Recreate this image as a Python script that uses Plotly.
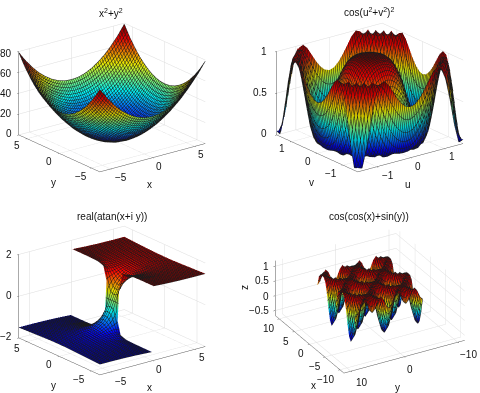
import numpy as np
import plotly.graph_objects as go

# ---------- values ----------
# x^2+y^2 : one quadrant, the other three are its mirror images
PARAB_AXIS = [-6.28, -5.5, -4.71, -3.93, -3.14, -2.36, -1.57, -0.79, 0]
PARAB_Q = [
    [79, 69.7, 61.7, 54.9, 49.4, 45.1, 42, 40.1, 39.5],
    [69.7, 60.4, 52.4, 45.6, 40.1, 35.8, 32.7, 30.8, 30.2],
    [61.7, 52.4, 44.4, 37.6, 32.1, 27.8, 24.7, 22.8, 22.2],
    [54.9, 45.6, 37.6, 30.8, 25.3, 21, 17.9, 16, 15.4],
    [49.4, 40.1, 32.1, 25.3, 19.8, 15.5, 12.4, 10.5, 9.9],
    [45.1, 35.8, 27.8, 21, 15.5, 11.2, 8.1, 6.2, 5.6],
    [42, 32.7, 24.7, 17.9, 12.4, 8.1, 5, 3.1, 2.5],
    [40.1, 30.8, 22.8, 16, 10.5, 6.2, 3.1, 1.2, 0.6],
    [39.5, 30.2, 22.2, 15.4, 9.9, 5.6, 2.5, 0.6, 0],
]
# cos(u^2+v^2)^2 : one quadrant
RIPPLE_AXIS = [-1.571, -1.44, -1.309, -1.178, -1.047, -0.916, -0.785, -0.654, -0.524, -0.393, -0.262, -0.131, 0]
RIPPLE_Q = [
    [0.049, 0.029, 0.255, 0.570, 0.831, 0.973, 0.997, 0.941, 0.848, 0.753, 0.678, 0.627, 0.610],
    [0.029, 0.286, 0.640, 0.901, 0.999, 0.949, 0.810, 0.644, 0.491, 0.373, 0.293, 0.247, 0.232],
    [0.255, 0.640, 0.921, 0.998, 0.894, 0.692, 0.474, 0.293, 0.164, 0.086, 0.044, 0.025, 0.020],
    [0.570, 0.901, 0.998, 0.872, 0.627, 0.373, 0.177, 0.059, 0.008, 0.001, 0.013, 0.027, 0.033],
    [0.831, 0.999, 0.894, 0.627, 0.339, 0.127, 0.020, 0.002, 0.040, 0.099, 0.155, 0.197, 0.208],
    [0.973, 0.949, 0.692, 0.373, 0.127, 0.012, 0.013, 0.089, 0.197, 0.298, 0.378, 0.429, 0.445],
    [0.997, 0.810, 0.474, 0.177, 0.020, 0.013, 0.110, 0.252, 0.395, 0.514, 0.599, 0.649, 0.669],
    [0.941, 0.644, 0.293, 0.059, 0.002, 0.089, 0.252, 0.429, 0.582, 0.697, 0.770, 0.813, 0.826],
    [0.848, 0.491, 0.164, 0.008, 0.040, 0.197, 0.395, 0.582, 0.728, 0.826, 0.886, 0.918, 0.927],
    [0.753, 0.373, 0.086, 0.001, 0.099, 0.298, 0.514, 0.697, 0.826, 0.909, 0.951, 0.971, 0.976],
    [0.678, 0.293, 0.044, 0.013, 0.155, 0.378, 0.599, 0.770, 0.886, 0.951, 0.981, 0.993, 0.995],
    [0.627, 0.247, 0.025, 0.027, 0.197, 0.429, 0.649, 0.813, 0.918, 0.971, 0.993, 0.999, 1.0],
    [0.610, 0.232, 0.020, 0.033, 0.208, 0.445, 0.669, 0.826, 0.927, 0.976, 0.995, 1.0, 1.0],
]
# real(atan(x+iy)) : rows for x>0, columns for y>=0
ATAN_X = [0.1, 0.3, 0.7, 1.2, 2, 3.14, 4.7, 6.28]
ATAN_Y = [0, 0.3, 0.6, 1, 1.5, 2.5, 4, 6.28]
ATAN_Q = [
    [0.099, 0.109, 0.154, 0.81, 1.49, 1.55, 1.564, 1.568],
    [0.29, 0.316, 0.414, 0.86, 1.36, 1.515, 1.551, 1.563],
    [0.611, 0.64, 0.732, 0.954, 1.232, 1.451, 1.526, 1.553],
    [0.876, 0.894, 0.946, 1.056, 1.207, 1.398, 1.498, 1.541],
    [1.107, 1.114, 1.135, 1.178, 1.245, 1.367, 1.467, 1.524],
    [1.262, 1.265, 1.272, 1.287, 1.313, 1.374, 1.447, 1.506],
    [1.361, 1.362, 1.364, 1.37, 1.38, 1.405, 1.447, 1.494],
    [1.413, 1.414, 1.415, 1.416, 1.42, 1.434, 1.457, 1.491],
]
ATAN_AT_ZERO = [0, 0, 0, 0, None, None, None, None]  # open gap for |y|>1
# cos(cos(x)+sin(y)) : one repeating cell, shown twice each way
WAVE_CELL = [
    [0.54, 0.07, -0.29, -0.42, -0.29, 0.07, 0.54, 0.88, 0.99, 1, 0.99, 0.88],
    [0.65, 0.2, -0.16, -0.29, -0.16, 0.2, 0.65, 0.93, 1, 0.99, 1, 0.93],
    [0.88, 0.54, 0.2, 0.07, 0.2, 0.54, 0.88, 1, 0.93, 0.88, 0.93, 1],
    [1, 0.88, 0.65, 0.54, 0.65, 0.88, 1, 0.88, 0.65, 0.54, 0.65, 0.88],
    [0.88, 1, 0.93, 0.88, 0.93, 1, 0.88, 0.54, 0.2, 0.07, 0.2, 0.54],
    [0.65, 0.93, 1, 0.99, 1, 0.93, 0.65, 0.2, -0.16, -0.29, -0.16, 0.2],
    [0.54, 0.88, 0.99, 1, 0.99, 0.88, 0.54, 0.07, -0.29, -0.42, -0.29, 0.07],
    [0.65, 0.93, 1, 0.99, 1, 0.93, 0.65, 0.2, -0.16, -0.29, -0.16, 0.2],
    [0.88, 1, 0.93, 0.88, 0.93, 1, 0.88, 0.54, 0.2, 0.07, 0.2, 0.54],
    [1, 0.88, 0.65, 0.54, 0.65, 0.88, 1, 0.88, 0.65, 0.54, 0.65, 0.88],
    [0.88, 0.54, 0.2, 0.07, 0.2, 0.54, 0.88, 1, 0.93, 0.88, 0.93, 1],
    [0.65, 0.2, -0.16, -0.29, -0.16, 0.2, 0.65, 0.93, 1, 0.99, 1, 0.93],
]
WAVE_LIMIT = 6.28

TITLES = ["x<sup>2</sup>+y<sup>2</sup>", "cos(u<sup>2</sup>+v<sup>2</sup>)<sup>2</sup>",
          "real(atan(x+i y))", "cos(cos(x)+sin(y))"]
TICKS_5 = [-5, 0, 5]
TICKS_1 = [-1, 0, 1]
TICKS_10 = [-10, -5, 0, 5, 10]
TICKS_10_WIDE = [-10, 0, 10]
Z_TICKS_A = [0, 20, 40, 60, 80]
Z_TICKS_B = [0, 0.5, 1]
Z_TICKS_C = [-2, 0, 2]
Z_TICKS_D = [-0.5, 0, 0.5, 1]

# page placement of the tick labels and axis names: text, px from left, px from top
Z_LABELS = [
    ("80", 14, 53), ("60", 14, 73), ("40", 14, 93), ("20", 14, 113), ("0", 14, 133),
    ("1", 269, 51), ("0.5", 269, 92), ("0", 269, 133),
    ("2", 14, 254), ("0", 14, 295), ("\u22122", 14, 336),
    ("1", 271, 266), ("0.5", 271, 280), ("0", 271, 296), ("\u22120.5", 271, 310),
]
PLANE_LABELS = [
    ("\u22125", 121, 178), ("0", 159, 166), ("5", 201, 154),
    ("5", 17, 145), ("0", 49, 161), ("\u22125", 81, 176),
    ("\u22121", 388, 175), ("0", 418, 166), ("1", 452, 156),
    ("1", 282, 148), ("0", 308, 161), ("\u22121", 331, 173),
    ("\u22125", 121, 381), ("0", 159, 369), ("5", 202, 357),
    ("5", 17, 348), ("0", 49, 364), ("\u22125", 79, 379),
    ("10", 269, 328), ("5", 286, 341), ("0", 301, 353), ("\u22125", 315, 366), ("\u221210", 325, 379),
    ("10", 362, 382), ("0", 410, 369), ("\u221210", 468, 354),
]
AXIS_NAMES = [
    ("x", 149, 184), ("y", 53, 182), ("u", 408, 184), ("v", 311, 182),
    ("x", 149, 387), ("y", 53, 385), ("x", 313, 385), ("y", 397, 387),
]
TITLE_PLACES = [(111, 13), (369, 12), (112, 216), (369, 216)]

# ---------- assemble grids ----------
def mirror(q):
    q = np.array(q, dtype=float)
    q = np.hstack([q, q[:, -2::-1]])
    return np.vstack([q, q[-2::-1, :]])

def mirror_axis(a):
    a = np.array(a, dtype=float)
    return np.concatenate([a, -a[-2::-1]])

parab_axis = mirror_axis(PARAB_AXIS)
parab_z = mirror(PARAB_Q)
ripple_axis = mirror_axis(RIPPLE_AXIS)
ripple_z = mirror(RIPPLE_Q)

yp = np.array(ATAN_Y, dtype=float)
atan_y = np.concatenate([-yp[:0:-1], yp])
xp = np.array(ATAN_X, dtype=float)
atan_x = np.concatenate([-xp[::-1], [0], xp])
right = np.array(ATAN_Q, dtype=float)
right = np.hstack([right[:, :0:-1], right])          # rows x>0, cols all y
zero = np.array(ATAN_AT_ZERO, dtype=float)
zero = np.concatenate([zero[:0:-1], zero])[None, :]
atan_grid = np.vstack([-right[::-1, :], zero, right]).T    # rows y, cols x
atan_z = [[None if np.isnan(v) else float(v) for v in row] for row in atan_grid]

wave = np.tile(np.array(WAVE_CELL), (2, 2))
wave = np.hstack([wave, wave[:, :1]])
wave = np.vstack([wave, wave[:1, :]])
wave_axis = np.linspace(-WAVE_LIMIT, WAVE_LIMIT, wave.shape[0])

JET = [[0, "#00007f"], [0.11, "#0000ff"], [0.36, "#00ffff"], [0.61, "#ffff00"],
       [0.86, "#ff0000"], [1, "#7f0000"]]
FONT = "Liberation Sans, Arial, Helvetica, sans-serif"

def surface(x, y, z, scene, xstep, ystep, zlim):
    xa = float(np.min(x))
    ra = float(np.min(y))
    return go.Surface(
        x=x, y=y, z=z, scene=scene, colorscale=JET, showscale=False,
        cmin=zlim[0], cmax=zlim[1], hoverinfo="skip",
        lighting=dict(ambient=0.8, diffuse=0.35, specular=0.05, roughness=0.8),
        contours=dict(
            x=dict(show=True, start=xa, end=-xa, size=xstep, color="#1a1a1a", width=1),
            y=dict(show=True, start=ra, end=-ra, size=ystep, color="#1a1a1a", width=1),
        ),
    )

fig = go.Figure()
fig.add_trace(surface(parab_axis, parab_axis, parab_z, "scene", 12.56 / 56, 12.56 / 56, (0, 79)))
fig.add_trace(surface(ripple_axis, ripple_axis, ripple_z, "scene2", 3.142 / 56, 3.142 / 56, (0, 1)))
fig.add_trace(surface(atan_x, atan_y, atan_z, "scene3", 12.56 / 48, 12.56 / 48, (-1.57, 1.57)))
fig.add_trace(surface(wave_axis, wave_axis, wave, "scene4", 12.56 / 48, 12.56 / 48, (-0.42, 1)))

def axis(rng, ticks):
    return dict(
        title=dict(text=""), range=rng, tickvals=ticks, showticklabels=False,
        showbackground=False, showgrid=True, gridcolor="#dcdcdc", gridwidth=1,
        zeroline=False, showline=True, linecolor="#555", linewidth=1,
        ticks="outside", ticklen=2, tickcolor="#555", showspikes=False,
    )

PX_PER_UNIT = 99.0

def camera(hx, hy, sin_el, left_px, up_px):
    """View from horizontal direction (hx, hy), moved on the page by left_px / up_px."""
    cos_el = (1 - sin_el ** 2) ** 0.5
    view = np.array([hx * cos_el, hy * cos_el, sin_el])
    page_right = np.array([-hy, hx, 0.0])
    page_up = np.array([-hx * sin_el, -hy * sin_el, cos_el])
    d = (page_right * left_px - page_up * up_px) / PX_PER_UNIT
    eye = view * 2.5 + d
    return dict(
        eye=dict(x=float(eye[0]), y=float(eye[1]), z=float(eye[2])),
        center=dict(x=float(d[0]), y=float(d[1]), z=float(d[2])),
        up=dict(x=0, y=0, z=1), projection=dict(type="orthographic"),
    )

def scene(dom, xa, ya, za, size, zr, cam):
    return dict(
        domain=dom, xaxis=xa, yaxis=ya, zaxis=za,
        aspectmode="manual", aspectratio=dict(x=size, y=size, z=size * zr),
        camera=cam,
    )

def note(text, px, py, anchor="center", size=10, angle=0):
    return dict(text=text, x=px / 480, y=1 - py / 393, xref="paper", yref="paper",
                showarrow=False, xanchor=anchor, yanchor="middle", textangle=angle,
                font=dict(size=size, family=FONT, color="#111"))

notes = [note(TITLES[i], *TITLE_PLACES[i]) for i in range(4)]
notes += [note(t, px, py, "right") for t, px, py in Z_LABELS]
notes += [note(t, px, py) for t, px, py in PLANE_LABELS]
notes += [note(t, px, py) for t, px, py in AXIS_NAMES]
notes.append(note("z", 244, 288, angle=-90))

fig.update_layout(
    width=480, height=393, margin=dict(l=0, r=0, t=0, b=0),
    paper_bgcolor="white", showlegend=False,
    font=dict(family=FONT, size=10, color="#111"),
    scene=scene(dict(x=[0.0, 0.5], y=[0.5, 1.0]),
                axis([-6.28, 6.28], TICKS_5), axis([-6.28, 6.28], TICKS_5), axis([0, 80], Z_TICKS_A),
                1.35, 0.67, camera(-0.609, -0.793, 0.35, 8, 1)),
    scene2=scene(dict(x=[0.5, 1.0], y=[0.5, 1.0]),
                 axis([-1.571, 1.571], TICKS_1), axis([-1.571, 1.571], TICKS_1), axis([0, 1], Z_TICKS_B),
                 1.35, 0.67, camera(-0.609, -0.793, 0.35, -10, 1)),
    scene3=scene(dict(x=[0.0, 0.5], y=[0.0, 0.5]),
                 axis([-6.28, 6.28], TICKS_5), axis([-6.28, 6.28], TICKS_5), axis([-2, 2], Z_TICKS_C),
                 1.35, 0.67, camera(-0.609, -0.793, 0.35, 8, -5)),
    scene4=scene(dict(x=[0.5, 1.0], y=[0.0, 0.5]),
                 axis([-11.3, 11.3], TICKS_10), axis([-11.3, 11.3], TICKS_10_WIDE), axis([-0.67, 1.19], Z_TICKS_D),
                 1.41, 0.45, camera(-0.87, 0.495, 0.477, -10, -5)),
    annotations=notes,
)
fig.write_html("out.html", config={"displayModeBar": False},
               post_script="document.documentElement.style.margin='0';document.body.style.margin='0';document.body.style.overflow='hidden';")
